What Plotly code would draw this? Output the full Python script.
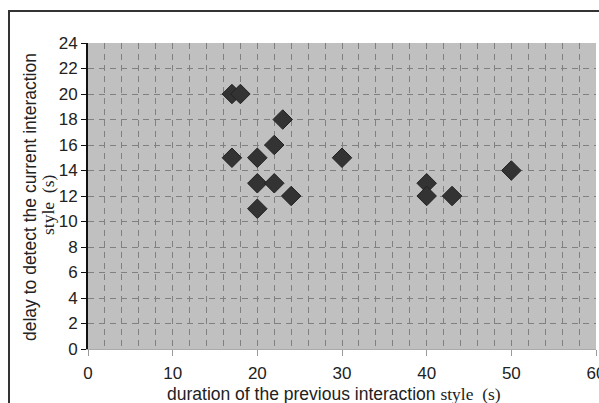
import plotly.graph_objects as go

duration = [17, 18, 23, 22, 17, 20, 30, 20, 22, 24, 20, 40, 40, 43, 50]
delay    = [20, 20, 18, 16, 15, 15, 15, 13, 13, 12, 11, 13, 12, 12, 14]

x_ticks = [0, 10, 20, 30, 40, 50, 60]
y_ticks = [0, 2, 4, 6, 8, 10, 12, 14, 16, 18, 20, 22, 24]

x_title_sans = "duration of the previous interaction"
y_title_sans = "delay to detect the current interaction"
title_serif = "style&nbsp;&nbsp;(s)"

L, R, T, B = 88, 3, 43, 54
W, H = 599, 403
pw, ph = W - L - R, H - T - B

SANS = "Liberation Sans, Arial"
SERIF = "Liberation Serif"
FS_TICK = 17
FS_TITLE = 17.5

fig = go.Figure()
fig.add_trace(go.Scatter(
    x=duration, y=delay, mode="markers",
    marker=dict(symbol="diamond", size=15, color="#333333",
                line=dict(color="#222222", width=1)),
    showlegend=False, cliponaxis=False,
))

grid = dict(showgrid=True, gridcolor="#808080", gridwidth=1, griddash="6px,5px")

fig.update_layout(
    width=W, height=H,
    margin=dict(l=L, r=R, t=T, b=B, autoexpand=False),
    paper_bgcolor="white", plot_bgcolor="#c0c0c0",
    font=dict(family=SANS, size=FS_TICK, color="#222222"),
    xaxis=dict(
        range=[0, 60], tickvals=x_ticks, ticktext=[str(v) for v in x_ticks],
        ticks="outside", ticklen=6, tickcolor="#999999",
        showline=True, linecolor="#aaaaaa", linewidth=1,
        zeroline=False, automargin=False, ticklabeloverflow="allow", **grid,
        minor=dict(dtick=2, showgrid=True, gridcolor="#808080",
                   griddash="6px,5px", ticks=""),
        tickfont=dict(size=FS_TICK), ticklabelstandoff=3,
    ),
    yaxis=dict(
        range=[0, 24], tickvals=y_ticks, ticktext=[str(v) for v in y_ticks],
        ticks="outside", ticklen=5, tickcolor="#111111",
        showline=True, linecolor="#111111", linewidth=2,
        zeroline=False, automargin=False, ticklabeloverflow="allow", **grid,
        tickfont=dict(size=FS_TICK),
    ),
)

# axis titles (sans + serif mix, as in the reference)
fig.add_annotation(
    xref="paper", yref="paper",
    x=(334 - L) / pw, y=(349 - 394) / ph,
    text=f'{x_title_sans} <span style="font-family:{SERIF}">{title_serif}</span>',
    showarrow=False, xanchor="center", yanchor="middle",
    font=dict(size=FS_TITLE, family=SANS, color="#222222"),
)
fig.add_annotation(
    xref="paper", yref="paper",
    x=(30 - L) / pw, y=(349 - 197) / ph,
    text=y_title_sans, textangle=-90,
    showarrow=False, xanchor="center", yanchor="middle",
    font=dict(size=FS_TITLE, family=SANS, color="#222222"),
)
fig.add_annotation(
    xref="paper", yref="paper",
    x=(48 - L) / pw, y=(349 - 205) / ph,
    text=title_serif, textangle=-90,
    showarrow=False, xanchor="center", yanchor="middle",
    font=dict(size=FS_TITLE, family=SERIF, color="#222222"),
)

# outer frame (extends past right and bottom edges of the window)
fig.add_shape(type="rect", xref="paper", yref="paper",
              x0=(9 - L) / pw, x1=1.1, y0=-0.4, y1=1 + (T - 11) / ph,
              line=dict(color="#333333", width=2), layer="below")

fig.write_html(
    "out.html",
    config={"displayModeBar": False},
    post_script="document.body.style.margin='0';document.body.style.overflow='hidden';",
)
